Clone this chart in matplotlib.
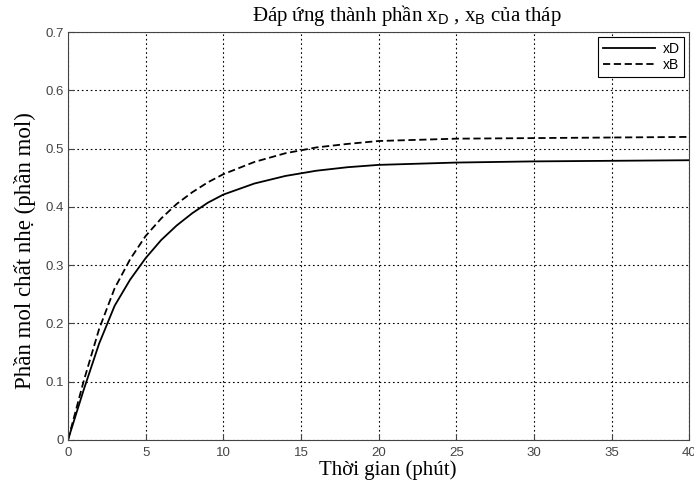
import numpy as np
import matplotlib.pyplot as plt

plt.rcParams['mathtext.fontset'] = 'custom'
plt.rcParams['mathtext.rm'] = 'Liberation Sans'

# thoi gian (phut)
t = [0, 1, 2, 3, 4, 5, 6, 7, 8, 9, 10, 12, 14, 16, 18, 20, 25, 30, 35, 40]
xD = [0, 0.085, 0.165, 0.23, 0.275, 0.312, 0.343, 0.368, 0.389, 0.407, 0.421,
      0.440, 0.453, 0.462, 0.468, 0.472, 0.476, 0.478, 0.479, 0.480]
xB = [0, 0.10, 0.19, 0.26, 0.31, 0.35, 0.38, 0.405, 0.425, 0.442, 0.456,
      0.477, 0.492, 0.502, 0.508, 0.513, 0.517, 0.518, 0.519, 0.520]

fig = plt.figure(figsize=(6.94, 4.86), dpi=100)
ax = fig.add_axes([0.098, 0.095, 0.895, 0.839])

ax.plot(t, xD, color='black', lw=1.3, label='xD')
ax.plot(t, xB, color='black', lw=1.3, ls=(0, (4, 2)), label='xB')

ax.set_xlim(0, 40)
ax.set_ylim(0, 0.7)
ax.set_xticks(np.arange(0, 41, 5))
ax.set_yticks(np.arange(0, 0.71, 0.1))
ax.set_yticklabels(['0', '0.1', '0.2', '0.3', '0.4', '0.5', '0.6', '0.7'])
ax.grid(True, color='black', ls=(0, (1.5, 2.5)), lw=0.8)
ax.tick_params(direction='in', labelsize=9.5, colors='#444444', length=4, pad=3)
ax.tick_params(axis='x', pad=5)
for lab in ax.get_xticklabels() + ax.get_yticklabels():
    lab.set_family('Liberation Sans')
for s in ax.spines.values():
    s.set_color('#444444')

ax.set_title(r'Đáp ứng thành phần x$_{\rm D}$ , x$_{\rm B}$ của tháp',
             family='Liberation Serif', fontsize=15, pad=8, x=0.546)
ax.set_xlabel('Thời gian (phút)', family='Liberation Serif', fontsize=15, labelpad=1, x=0.515)
ax.set_ylabel('Phần mol chất nhẹ (phần mol)', family='Liberation Serif', fontsize=16.5,
              labelpad=7, y=0.463)

leg = ax.legend(loc='upper right', prop={'family': 'Liberation Sans', 'size': 10},
                fancybox=False, edgecolor='black', framealpha=1,
                handlelength=3.8, handletextpad=0.5, borderaxespad=0.35,
                labelspacing=0.15, borderpad=0.35)
leg.get_frame().set_linewidth(0.8)

fig.savefig('out.png', dpi=100)
